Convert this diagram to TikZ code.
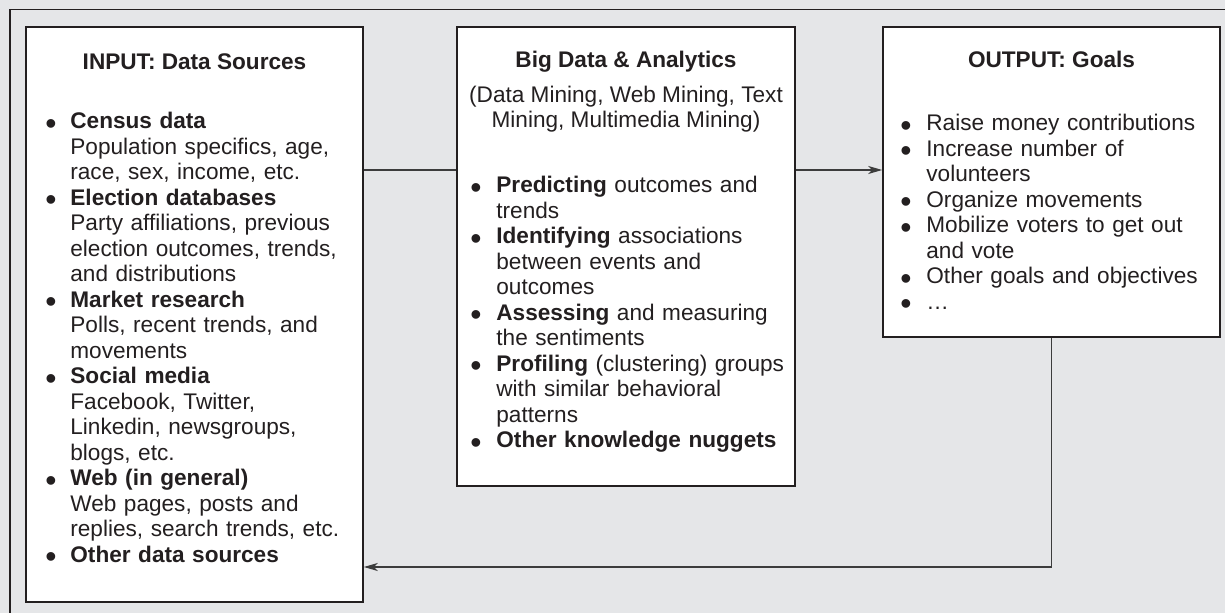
\documentclass[tikz,border=0pt]{standalone}
\usepackage{fontspec}
\setmainfont{Liberation Sans}
\usepackage{enumitem}
\usetikzlibrary{arrows.meta}
\definecolor{panel}{RGB}{229,230,232}
\definecolor{ink}{RGB}{35,31,32}
\definecolor{wire}{RGB}{60,60,60}
\newcommand{\dotmark}{\smash{\raisebox{-2.6pt}{\fontsize{16}{16}\selectfont\textbullet}}}
\setlist[itemize]{nosep,leftmargin=11.5pt,labelindent=-1pt,labelwidth=5pt,labelsep=*,align=left,label=\dotmark}

\begin{document}
\begin{tikzpicture}[
  x=0.5pt, y=-0.5pt,
  box/.style={draw=ink,fill=white,line width=0.8pt,inner sep=0pt},
  head/.style={anchor=base,inner sep=0pt,text=ink,font=\bfseries\fontsize{11.3}{12.75}\selectfont},
  items/.style={anchor=north west,inner sep=0pt,text width=#1,align=left,text=ink,font=\fontsize{11.3}{12.75}\selectfont},
  link/.style={draw=wire,line width=0.65pt},
  arrow/.style={link,-{Stealth[length=7pt,width=4pt,inset=2pt]}}
]
\useasboundingbox (0,0) rectangle (1225,613);
\fill[panel] (0,0) rectangle (1225,613);
\draw[draw=ink,line width=0.75pt] (1225,9.5) -| (10,613);

% the three panels
\node[box,minimum width=168.5pt,minimum height=287.5pt] (sources) at (194.5,314.5) {};
\node[box,minimum width=169pt,minimum height=229.5pt] (analytics) at (626,256.5) {};
\node[box,minimum width=168.5pt,minimum height=155pt] (goals) at (1051.5,182) {};

% input side
\node[head] (sourceshead) at (194.5,70) {INPUT: Data Sources};
\node[items=160pt] (sourcelist) at (47,103) {%
\begin{itemize}
\item \strut\textbf{Census data}\newline Population specifics, age,\newline race, sex, income, etc.
\item \textbf{Election databases}\newline Party affiliations, previous\newline election outcomes, trends,\newline and distributions
\item \textbf{Market research}\newline Polls, recent trends, and\newline movements
\item \textbf{Social media}\newline Facebook, Twitter,\newline Linkedin, newsgroups,\newline blogs, etc.
\item \textbf{Web (in general)}\newline Web pages, posts and\newline replies, search trends, etc.
\item \textbf{Other data sources}
\end{itemize}};

% analytics in the middle
\node[head] (analyticshead) at (626,68) {Big Data \& Analytics};
\node[anchor=north,inner sep=0pt,align=center,text=ink,font=\fontsize{11.3}{12.75}\selectfont] (methods) at (626,84) {\strut(Data Mining, Web Mining, Text\\Mining, Multimedia Mining)};
\node[items=160pt] (analyticslist) at (472,167) {%
\begin{itemize}[leftmargin=12pt]
\item \strut\textbf{Predicting} outcomes and\newline trends
\item \textbf{Identifying} associations\newline between events and\newline outcomes
\item \textbf{Assessing} and measuring\newline the sentiments
\item \textbf{Profiling} (clustering) groups\newline with similar behavioral\newline patterns
\item \textbf{Other knowledge nuggets}
\end{itemize}};

% output side
\node[head] (goalshead) at (1051.5,68) {OUTPUT: Goals};
\node[items=155pt] (goallist) at (902,105) {%
\begin{itemize}[leftmargin=12pt]
\item \strut Raise money contributions
\item Increase number of\newline volunteers
\item Organize movements
\item Mobilize voters to get out\newline and vote
\item Other goals and objectives
\item \ldots
\end{itemize}};

% connectors
\coordinate (fwd) at (0,170);
\coordinate (back) at (0,567);
\draw[link] (sources.east |- fwd) -- (analytics.west |- fwd);
\draw[arrow] (analytics.east |- fwd) -- (goals.west |- fwd);
\draw[arrow] (goals.south) |- (sources.east |- back);
\end{tikzpicture}
\end{document}
